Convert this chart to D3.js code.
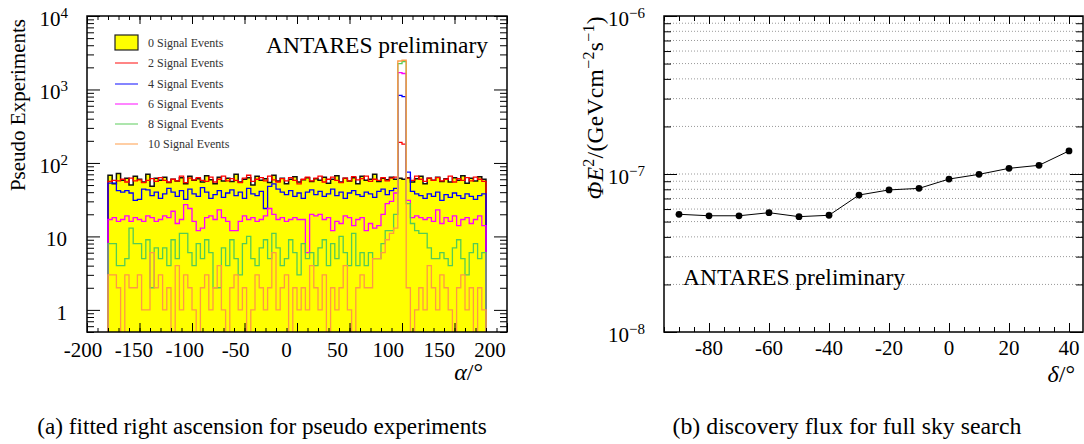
<!DOCTYPE html>
<html><head><meta charset="utf-8">
<script src="https://cdn.jsdelivr.net/npm/d3@7"></script>
<style>
body{margin:0;background:#fff;}
svg{display:block;font-family:"Liberation Serif","Times New Roman",serif;}
</style>
</head><body>
<svg id="c" width="1084" height="444" font-family="Liberation Serif, Times New Roman, serif"></svg>
<script>
// ---------- DATA ----------
// Panel (a): histogram of fitted right ascension, 90 bins of 4 deg from -180 to 180
const raBinLow = d3.range(-180, 180, 4);
const sig0 = [68,52,72,58,62,50,66,60,55,70,48,62,58,64,54,60,57,63,52,66,58,61,55,67,59,52,64,57,62,56,
  70,55,60,63,50,66,58,61,54,68,57,62,52,60,65,55,59,63,56,61,
  58,64,53,60,67,55,62,57,63,52,66,58,60,70,56,62,59,64,60,62,60,63,55,61,66,52,62,58,64,56,
  61,55,63,58,67,53,62,57,65,60];
const sig2 = [56,58,57,60,55,62,57,59,54,58,61,56,63,58,55,60,57,66,54,62,59,63,58,56,64,55,60,66,57,61,
  58,54,62,68,56,60,63,57,66,59,55,61,57,63,58,52,60,64,57,62,
  66,55,60,64,58,54,62,57,65,59,61,66,56,60,58,63,57,62,64,190,180,62,58,66,60,56,62,58,63,57,
  60,66,55,61,58,63,57,64,60,56];
const sig4 = [53,53,42,40,42,39,31,32,44,43,36,40,33,38,45,40,35,42,32,44,38,35,46,40,33,37,42,34,39,43,
  36,40,33,45,38,36,41,24,48,52,44,40,37,42,35,39,33,40,43,37,
  41,35,38,44,36,40,33,39,42,37,35,40,38,34,41,44,37,42,45,830,800,75,41,38,36,33,38,35,40,31,
  37,34,39,36,33,38,35,32,36,38];
const sig6 = [17,18,16,17,19,16,18,17,16,19,18,16,17,19,18,22,15,17,27,24,16,12,13,18,19,17,23,18,16,12,
  12,16,19,17,18,16,17,19,24,20,17,18,16,17,18,17,17,6,20,19,
  20,17,18,12,16,15,19,18,14,17,18,12,15,13,14,20,28,30,39,1700,1650,31,18,19,18,17,18,16,23,15,
  18,16,19,14,17,18,15,17,19,14];
const sig8 = [8,8,4,4,5,13,8,8,5,9,2,7,5,7,4,9,5,11,11,6,4,8,5,9,6,2,2,7,4,9,
  5,3,8,10,5,4,7,9,5,11,7,4,5,9,6,3,8,5,6,4,
  7,9,4,8,5,10,6,4,11,4,6,4,6,5,5,8,12,12,20,2250,2400,28,15,12,11,11,7,5,5,6,
  5,4,7,9,5,3,6,8,5,6];
const sig10 = [3,3,2,0,3,2,2,3,1,1,6,2,3,1,2,0,4,1,3,2,1,0,2,3,1,2,4,1,0,2,
  3,1,2,0,1,3,2,1,2,6,1,2,3,0,2,1,2,1,4,2,
  1,3,0,2,1,2,4,1,0,2,3,2,2,5,5,6,9,11,13,2440,2500,2,0,1,2,1,4,2,1,3,
  2,1,0,2,3,1,2,0,2,1];
const legendLabels = ["0 Signal Events","2 Signal Events","4 Signal Events","6 Signal Events","8 Signal Events","10 Signal Events"];
const seriesColors = ["#000000","#ff0000","#0000ff","#ff00ff","#55cc55","#ff9944"];
const xTicksA = [-200,-150,-100,-50,0,50,100,150,200];
const yTicksA = [1,10,100,1000,10000];

// Panel (b): discovery flux vs declination
const decl = [-90,-80,-70,-60,-50,-40,-30,-20,-10,0,10,20,30,40];
const discFlux = [5.56e-8,5.44e-8,5.44e-8,5.69e-8,5.37e-8,5.48e-8,7.36e-8,7.93e-8,8.11e-8,9.29e-8,9.95e-8,1.086e-7,1.135e-7,1.40e-7];
const xTicksB = [-80,-60,-40,-20,0,20,40];
const yTicksB = [1e-8,1e-7,1e-6];

// ---------- DRAW ----------
const svg = d3.select("#c");
const FONT = 21, SUP = 15;

function logMinors(lo, hi){
  const out=[];
  for(let e=Math.floor(Math.log10(lo))-1;e<=Math.ceil(Math.log10(hi));e++){
    for(let m=2;m<=9;m++){const v=m*Math.pow(10,e); if(v>=lo*0.999&&v<=hi*1.001) out.push(v);}
  }
  return out;
}
function tickMarks(axisGen, tr){
  const g = svg.append("g").attr("transform",tr).call(axisGen);
  g.select(".domain").remove();
  g.selectAll("text").remove();
  g.selectAll("line").attr("stroke","#000").attr("stroke-width",1);
  return g;
}
function powLabel(g, x, y, base, exp, anchor){
  const t = g.append("text").attr("x",x).attr("y",y).attr("text-anchor",anchor||"end")
    .attr("font-size",FONT).attr("fill","#000");
  t.append("tspan").text(base);
  if(exp!==null) t.append("tspan").attr("font-size",SUP).attr("dy",-8).text(exp);
  return t;
}

// ===== Panel (a) =====
const A = {l:87, r:507, t:16, b:332};
const xA = d3.scaleLinear().domain([-200,200]).range([A.l,A.r]);
const xALab = d3.scaleLinear().domain([-200,200]).range([83,490]);
const yA = d3.scaleLog().domain([0.5,1e4]).range([A.b,A.t]);

svg.append("clipPath").attr("id","clipA").append("rect")
  .attr("x",A.l).attr("y",A.t).attr("width",A.r-A.l).attr("height",A.b-A.t);

function stepPts(vals){
  const pts=[[xA(raBinLow[0]), A.b+6]];
  vals.forEach((v,i)=>{
    const y = v>0 ? yA(v) : A.b+6;
    pts.push([xA(raBinLow[i]), y],[xA(raBinLow[i]+4), y]);
  });
  pts.push([xA(raBinLow[raBinLow.length-1]+4), A.b+6]);
  return pts;
}
const line = d3.line();
const hg = svg.append("g").attr("clip-path","url(#clipA)");
const allSeries = [sig0,sig2,sig4,sig6,sig8,sig10];
hg.append("path").attr("d", line(stepPts(sig0))+"Z").attr("fill","#ffff00")
  .attr("stroke","#111").attr("stroke-width",1.5);
allSeries.slice(1).forEach((s,k)=>{
  hg.append("path").attr("d", line(stepPts(s))).attr("fill","none")
    .attr("stroke",seriesColors[k+1]).attr("stroke-width",1.3);
});

// frame and ticks
svg.append("rect").attr("x",A.l).attr("y",A.t).attr("width",A.r-A.l).attr("height",A.b-A.t)
  .attr("fill","none").attr("stroke","#000").attr("stroke-width",1.5);
const xMinorA = d3.range(-200,201,10);
tickMarks(d3.axisBottom(xA).tickValues(xMinorA).tickSize(-4), `translate(0,${A.b})`);
tickMarks(d3.axisBottom(xA).tickValues(xTicksA).tickSize(-9), `translate(0,${A.b})`);
tickMarks(d3.axisTop(xA).tickValues(xMinorA).tickSize(-4), `translate(0,${A.t})`);
tickMarks(d3.axisTop(xA).tickValues(xTicksA).tickSize(-8), `translate(0,${A.t})`);
const yMinorA = logMinors(0.5,1e4);
tickMarks(d3.axisLeft(yA).tickValues(yMinorA).tickSize(-7), `translate(${A.l},0)`);
tickMarks(d3.axisLeft(yA).tickValues(yTicksA).tickSize(-13), `translate(${A.l},0)`);
tickMarks(d3.axisRight(yA).tickValues(yMinorA).tickSize(-7), `translate(${A.r},0)`);
tickMarks(d3.axisRight(yA).tickValues(yTicksA).tickSize(-13), `translate(${A.r},0)`);

// tick labels
const labA = svg.append("g");
xTicksA.forEach(v=>{
  labA.append("text").attr("x",xALab(v)).attr("y",357).attr("text-anchor","middle")
    .attr("font-size",FONT).text(String(v));
});
yTicksA.forEach(v=>{
  const e = Math.round(Math.log10(v));
  if(e===0) powLabel(labA, 67, yA(v)+10, "1", null);
  else if(e===1) powLabel(labA, 67, yA(v)+10, "10", null);
  else powLabel(labA, 68, yA(v)+10, "10", String(e));
});
// axis titles
svg.append("text").attr("transform",`translate(25,${A.t+3}) rotate(-90)`).attr("text-anchor","end")
  .attr("font-size",21).text("Pseudo Experiments");
const at = svg.append("text").attr("x",483).attr("y",380).attr("text-anchor","end").attr("font-size",24);
at.append("tspan").attr("font-style","italic").text("α");
at.append("tspan").text("/°");

// ANTARES label
svg.append("text").attr("x",488).attr("y",53).attr("text-anchor","end").attr("font-size",23.5)
  .text("ANTARES preliminary");

// legend
const lg = svg.append("g");
const legY = [43,63,84,104,124,144];
legendLabels.forEach((lab,i)=>{
  if(i===0){
    lg.append("rect").attr("x",115).attr("y",legY[i]-8).attr("width",23).attr("height",15)
      .attr("fill","#ffff00").attr("stroke","#222").attr("stroke-width",1.2);
  } else {
    lg.append("line").attr("x1",115).attr("x2",138).attr("y1",legY[i]).attr("y2",legY[i])
      .attr("stroke",seriesColors[i]).attr("stroke-width",1.2).attr("opacity",0.8);
  }
  lg.append("text").attr("x",148).attr("y",legY[i]+4).attr("font-size",12).attr("fill","#333").text(lab);
});

// caption (a)
svg.append("text").attr("x",262).attr("y",434).attr("text-anchor","middle").attr("font-size",23.2)
  .text("(a) fitted right ascension for pseudo experiments");

// ===== Panel (b) =====
const B = {l:664, r:1083, t:16, b:332};
const xB = d3.scaleLinear().domain([-95,45]).range([664,1084]);
const yB = d3.scaleLog().domain([1e-8,1e-6]).range([B.b,B.t]);

const yMinorB = logMinors(1e-8,1e-6);
// grid
const grid = svg.append("g");
yMinorB.concat([1e-7]).forEach(v=>{
  grid.append("line").attr("x1",B.l).attr("x2",B.r).attr("y1",yB(v)).attr("y2",yB(v))
    .attr("stroke","#999").attr("stroke-width",1).attr("stroke-dasharray","1,2");
});

svg.append("rect").attr("x",B.l).attr("y",B.t).attr("width",B.r-B.l).attr("height",B.b-B.t)
  .attr("fill","none").attr("stroke","#000").attr("stroke-width",1.5);
const xMinorB = d3.range(-95,46,5);
tickMarks(d3.axisBottom(xB).tickValues(xMinorB).tickSize(-5), `translate(0,${B.b})`);
tickMarks(d3.axisBottom(xB).tickValues(xTicksB).tickSize(-9), `translate(0,${B.b})`);
tickMarks(d3.axisTop(xB).tickValues(xMinorB).tickSize(-5), `translate(0,${B.t})`);
tickMarks(d3.axisTop(xB).tickValues(xTicksB).tickSize(-8), `translate(0,${B.t})`);
tickMarks(d3.axisLeft(yB).tickValues(yMinorB).tickSize(-7), `translate(${B.l},0)`);
tickMarks(d3.axisLeft(yB).tickValues(yTicksB).tickSize(-13), `translate(${B.l},0)`);
tickMarks(d3.axisRight(yB).tickValues(yMinorB).tickSize(-7), `translate(${B.r},0)`);
tickMarks(d3.axisRight(yB).tickValues(yTicksB).tickSize(-13), `translate(${B.r},0)`);

// data line + markers
const lineB = d3.line().x((d,i)=>xB(decl[i])).y(d=>yB(d));
svg.append("path").attr("d",lineB(discFlux)).attr("fill","none").attr("stroke","#000").attr("stroke-width",1);
svg.append("g").selectAll("circle").data(discFlux).join("circle")
  .attr("cx",(d,i)=>xB(decl[i])).attr("cy",d=>yB(d)).attr("r",3.4).attr("fill","#000");

const labB = svg.append("g");
xTicksB.forEach(v=>{
  labB.append("text").attr("x",xB(v)).attr("y",355).attr("text-anchor","middle")
    .attr("font-size",FONT).text(String(v));
});
yTicksB.forEach(v=>{
  const e = Math.round(Math.log10(v));
  powLabel(labB, 645, yB(v)+10, "10", "\u2212"+Math.abs(e));
});

const bt = svg.append("text").attr("x",1075).attr("y",382).attr("text-anchor","end").attr("font-size",24);
bt.append("tspan").attr("font-style","italic").text("δ");
bt.append("tspan").text("/°");

const yt = svg.append("text").attr("transform",`translate(603,${B.t}) rotate(-90)`).attr("text-anchor","end")
  .attr("font-size",23.5).attr("letter-spacing",0.3);
yt.append("tspan").attr("font-style","italic").text("ΦE");
yt.append("tspan").attr("font-size",16).attr("dy",-9).text("2");
yt.append("tspan").attr("dy",9).text("/(GeVcm");
yt.append("tspan").attr("font-size",16).attr("dy",-9).text("\u22122");
yt.append("tspan").attr("dy",9).text("s");
yt.append("tspan").attr("font-size",16).attr("dy",-9).text("\u22121");
yt.append("tspan").attr("dy",9).text(")");

svg.append("text").attr("x",683).attr("y",285).attr("font-size",23.5).text("ANTARES preliminary");

svg.append("text").attr("x",847).attr("y",434).attr("text-anchor","middle").attr("font-size",23.8)
  .text("(b) discovery flux for full sky search");
</script>
</body></html>
